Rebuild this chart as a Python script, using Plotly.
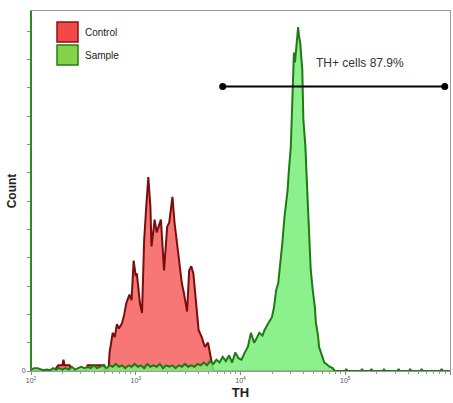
import plotly.graph_objects as go

# ---- data (log10 TH channel positions and event counts) ----
red_log = [2.00, 2.22, 2.24, 2.26, 2.30, 2.31, 2.32, 2.37, 2.38, 2.53, 2.54, 2.62, 2.70, 2.71,
           2.74, 2.75, 2.78, 2.80, 2.82, 2.84, 2.87, 2.89, 2.91, 2.94, 2.96, 2.98, 3.00, 3.01,
           3.02, 3.04, 3.06, 3.08, 3.10, 3.12, 3.14, 3.15, 3.17, 3.18, 3.20, 3.21, 3.23, 3.24,
           3.27, 3.30, 3.32, 3.35, 3.37, 3.40, 3.42, 3.44, 3.46, 3.49, 3.51, 3.53, 3.55, 3.58,
           3.60, 3.63, 3.66, 3.69, 3.71, 3.73, 3.74, 6.00]
red_cnt = [0, 0, 2, 4, 4, 8, 4, 4, 0, 0, 4, 4, 4, 0,
           0, 13, 27, 24, 33, 30, 34, 40, 48, 54, 50, 78, 67, 69,
           60, 48, 41, 92, 116, 137, 116, 88, 100, 107, 98, 100, 104, 107,
           71, 102, 105, 123, 105, 86, 74, 62, 55, 42, 71, 74, 69, 48,
           29, 24, 17, 20, 13, 6, 0, 0]

green_log = [2.00, 2.03, 2.06, 2.09, 2.12, 2.15, 2.18, 2.21, 2.24, 2.27, 2.30, 2.33, 2.36, 2.39,
             2.42, 2.45, 2.48, 2.51, 2.54, 2.57, 2.60, 2.63, 2.66, 2.69, 2.72, 2.75, 2.78, 2.81,
             2.84, 2.87, 2.90, 2.93, 2.96, 2.99, 3.02, 3.05, 3.08, 3.11, 3.14, 3.17, 3.20, 3.23,
             3.26, 3.29, 3.32, 3.35, 3.38, 3.41, 3.44, 3.47, 3.50, 3.53, 3.56, 3.59, 3.62, 3.65,
             3.68, 3.71, 3.74, 3.77, 3.80, 3.83, 3.86, 3.89, 3.92, 3.95, 3.98, 4.01, 4.04, 4.07,
             4.10, 4.13, 4.16, 4.18, 4.21, 4.23, 4.26, 4.28, 4.30, 4.32, 4.34, 4.36, 4.37, 4.39,
             4.40, 4.42, 4.43, 4.45, 4.46, 4.48, 4.49, 4.50, 4.51, 4.52, 4.53, 4.54, 4.55, 4.56,
             4.57, 4.58, 4.59, 4.60, 4.61, 4.62, 4.63, 4.64, 4.65, 4.66, 4.67, 4.69, 4.71, 4.72,
             4.74, 4.75, 4.77, 4.80, 4.82, 4.85, 4.88, 4.90, 5.00, 5.01, 5.02, 5.15, 5.16, 5.17,
             5.24, 5.25, 5.26, 5.36, 5.37, 5.38, 5.50, 5.51, 5.52, 5.61, 5.62, 5.63, 5.72, 5.73,
             5.74, 5.91, 5.92, 5.93, 6.00]
green_cnt = [1, 2, 2, 1, 0.5, 1, 0.5, 2, 1, 2, 1, 2, 1, 3,
             1, 2, 3, 2, 3, 2, 4, 2, 3, 4, 2, 4, 3, 5,
             3, 4, 2, 4, 3, 5, 3, 4, 2, 5, 3, 4, 3, 5,
             2, 4, 3, 4, 2, 4, 3, 5, 3, 4, 3, 5, 4, 6,
             4, 7, 5, 8, 6, 10, 7, 11, 6, 13, 9, 8, 13, 17,
             27, 20, 24, 27, 25, 29, 33, 36, 38, 45, 57, 62, 69, 80,
             91, 109, 115, 128, 140, 158, 180, 201, 225, 218, 225, 235, 243, 236,
             232, 222, 213, 178, 170, 158, 140, 121, 100, 81, 72, 57, 45, 34,
             25, 17, 12, 6, 5, 3, 2, 0, 0, 1.5, 0, 0, 1.5, 0,
             0, 1.5, 0, 0, 1.5, 0, 0, 1.5, 0, 0, 1.5, 0, 0, 1.5,
             0, 0, 1.5, 0, 0]

series_names = ["Control", "Sample"]
gate_log = [3.83, 5.95]
gate_level = 201
gate_label = "TH+ cells 87.9%"

x_tick_exp = [2, 3, 4, 5, 6]
y_tick_step = 20

RED_FILL = "rgba(247,112,112,0.95)"
RED_LINE = "#7a0d0d"
GREEN_FILL = "rgba(120,238,120,0.85)"
GREEN_LINE = "#1f7a14"

fig = go.Figure()
fig.add_trace(go.Scatter(
    x=[10 ** v for v in red_log], y=red_cnt, mode="lines", fill="tozeroy",
    fillcolor=RED_FILL, line=dict(color=RED_LINE, width=2), name=series_names[0],
    showlegend=False))
fig.add_trace(go.Scatter(
    x=[10 ** v for v in green_log], y=green_cnt, mode="lines", fill="tozeroy",
    fillcolor=GREEN_FILL, line=dict(color=GREEN_LINE, width=2), name=series_names[1],
    showlegend=False))

# gate
fig.add_trace(go.Scatter(
    x=[10 ** v for v in gate_log], y=[gate_level, gate_level], mode="lines+markers",
    line=dict(color="black", width=2), marker=dict(color="black", size=7),
    showlegend=False, hoverinfo="skip"))
# annotation x on a log axis is given in log10 units
fig.add_annotation(x=(gate_log[0] + gate_log[1]) / 2 + 0.25, y=gate_level + 10,
                   xref="x", yref="y", text=gate_label, showarrow=False,
                   font=dict(family="Liberation Sans, Arial", size=12, color="#333333"),
                   yanchor="bottom")

# legend drawn manually
legend_items = [(series_names[0], "#f24848", "#8a1010"), (series_names[1], "#86d24a", "#2c7a14")]
for i, (name, fc, lc) in enumerate(legend_items):
    y_top = 22 + i * 23
    fig.add_shape(type="rect", xref="paper", yref="paper",
                  x0=(57 - 31) / 419, x1=(78 - 31) / 419,
                  y0=1 - (y_top + 20 - 11) / 360, y1=1 - (y_top - 11) / 360,
                  fillcolor=fc, line=dict(color=lc, width=1.5))
    fig.add_annotation(xref="paper", yref="paper", x=(83 - 31) / 419,
                       y=1 - (y_top + 10 - 11) / 360, text=name, showarrow=False,
                       xanchor="left", yanchor="middle",
                       font=dict(family="Liberation Sans, Arial", size=10, color="#222222"))

# green left axis line
fig.add_shape(type="line", xref="paper", yref="paper", x0=0, x1=0, y0=0, y1=1,
              line=dict(color="#2e8b22", width=2))

fig.update_layout(
    width=453, height=403,
    margin=dict(l=31, r=3, t=11, b=32),
    paper_bgcolor="white", plot_bgcolor="white",
    font=dict(family="Liberation Sans, Arial", color="#333333"),
    xaxis=dict(type="log", range=[2, 6], showgrid=False, zeroline=False,
               tickvals=[10 ** e for e in x_tick_exp],
               ticktext=["10<sup>%d</sup>" % e for e in x_tick_exp],
               tickfont=dict(size=7, color="#555555"),
               ticks="outside", ticklen=3, tickcolor="#888888",
               minor=dict(ticks="outside", ticklen=2, tickcolor="#999999", dtick="D1"),
               showline=True, linecolor="#9a9a9a", linewidth=1, mirror=True,
               title=dict(text="<b>TH</b>", font=dict(size=13, color="#222222"), standoff=4)),
    yaxis=dict(range=[0, 254.4], showgrid=False, zeroline=False,
               tickvals=[0], ticktext=["0"],
               tickfont=dict(size=7, color="#555555"),
               ticks="outside", ticklen=3, tickcolor="#888888",
               minor=dict(ticks="outside", ticklen=3, tickcolor="#888888",
                          tick0=0, dtick=y_tick_step, showgrid=False),
               showline=True, linecolor="#9a9a9a", linewidth=1, mirror=True,
               title=dict(text="<b>Count</b>", font=dict(size=12, color="#222222"), standoff=2)),
)

fig.write_html("out.html")
